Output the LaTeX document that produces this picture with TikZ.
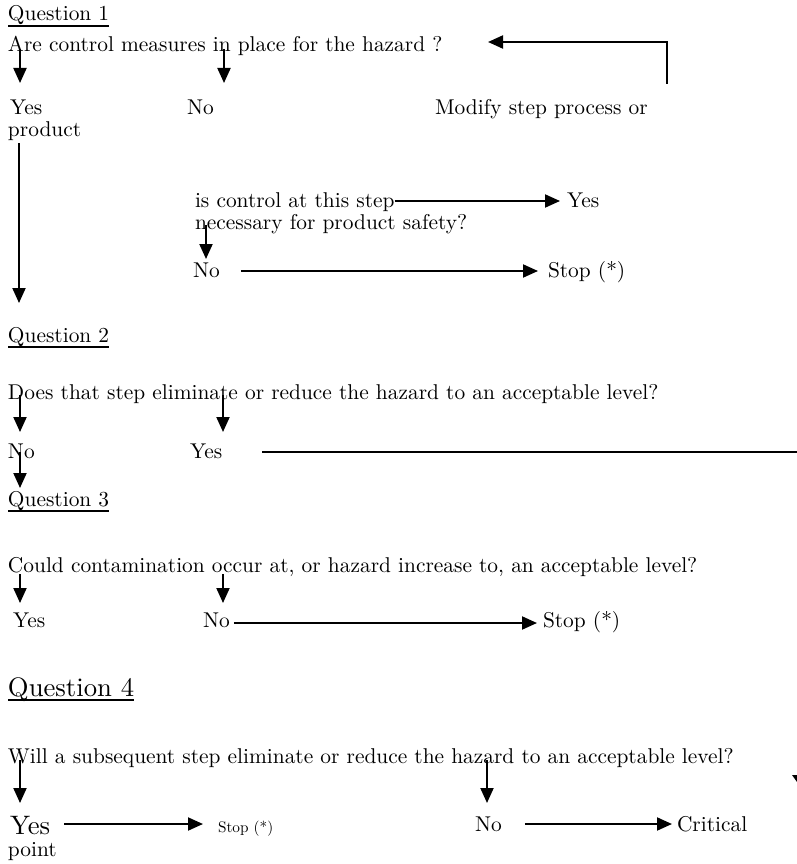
\documentclass[tikz,border=0pt]{standalone}
\usepackage{fontspec}
\setmainfont{lmroman10-regular.otf}
\usetikzlibrary{arrows.meta}
\newcommand\fm{\fontsize{21.4}{25}\selectfont}
\newcommand\fb{\fontsize{26.7}{31}\selectfont}
\newcommand\fs{\fontsize{15.3}{18}\selectfont}
\begin{document}
\begin{tikzpicture}[x=1pt,y=-1pt,
  txt/.style={inner sep=0pt, outer sep=0pt, anchor=base west, font=\fm},
  arr/.style={line width=2pt, -{Triangle[length=15pt,width=13pt]}},
  ln/.style={line width=2pt},
  ul/.style={line width=1.3pt}]
\useasboundingbox[fill=white] (0,0) rectangle (797,864);

% ---------- Question 1
\node[txt] (q1) at (8,21) {Question 1};
\draw[ul] ([yshift=-5pt]q1.base west) -- ([yshift=-5pt]q1.base east);
\node[txt] (l1) at (8,52) {Are control measures in place for the hazard ?};
\node[txt] (yes1) at (10,115) {Yes};
\node[txt] (no1) at (187,115) {No};
\node[txt] (mod) at (435,115) {Modify step process or};
\node[txt] (prod) at (8,136) {product};
\coordinate (a1s) at (20,49);  \coordinate (a1e) at (20,83);
\coordinate (a2s) at (224,49); \coordinate (a2e) at (224,83);
\draw[arr] (a1s) -- (a1e);
\draw[arr] (a2s) -- (a2e);
\coordinate (m1) at (667,84); \coordinate (m2) at (667,42); \coordinate (m3) at (488,42);
\draw[arr] (m1) -- (m2) -- (m3);
\coordinate (ls) at (19,143); \coordinate (le) at (19,303);
\draw[arr] (ls) -- (le);

\node[txt] (ic) at (195,207) {is control at this step};
\node[txt] (icyes) at (567,207) {Yes};
\node[txt] (nec) at (195,229) {necessary for product safety?};
\draw[arr] ([yshift=6pt]ic.base east) -- ([shift={(-7,-6)}]icyes.base west);
\coordinate (s1) at (206,225); \coordinate (s2) at (206,259);
\draw[arr] (s1) -- (s2);
\node[txt] (icno) at (193,277) {No};
\node[txt] (stop1) at (548,277) {Stop (*)};
\draw[arr] ([shift={(21,-6)}]icno.base east) -- ([shift={(-10,-6)}]stop1.base west);

% ---------- Question 2
\node[txt] (q2) at (8,342) {Question 2};
\draw[ul] ([yshift=-5pt]q2.base west) -- ([yshift=-5pt]q2.base east);
\node[txt] (l2) at (8,399) {Does that step eliminate or reduce the hazard to an acceptable level?};
\coordinate (b1s) at (20,395);  \coordinate (b1e) at (20,432);
\coordinate (b2s) at (223,395); \coordinate (b2e) at (223,432);
\draw[arr] (b1s) -- (b1e);
\draw[arr] (b2s) -- (b2e);
\node[txt] (no2) at (8,458) {No};
\node[txt] (yes2) at (190,458) {Yes};
\coordinate (r2) at (797,452);
\draw[ln] ([shift={(40,-6)}]yes2.base east) -- (r2);
\coordinate (c1s) at (20,452); \coordinate (c1e) at (20,488);
\draw[arr] (c1s) -- (c1e);

% ---------- Question 3
\node[txt] (q3) at (8,506) {Question 3};
\draw[ul] ([yshift=-5pt]q3.base west) -- ([yshift=-5pt]q3.base east);
\node[txt] (l3) at (8,572) {Could contamination occur at, or hazard increase to, an acceptable level?};
\coordinate (d1s) at (20,574);  \coordinate (d1e) at (20,603);
\coordinate (d2s) at (223,574); \coordinate (d2e) at (223,603);
\draw[arr] (d1s) -- (d1e);
\draw[arr] (d2s) -- (d2e);
\node[txt] (yes3) at (13,627) {Yes};
\node[txt] (no3) at (203,627) {No};
\node[txt] (stop3) at (543,627) {Stop (*)};
\draw[arr] ([shift={(4,-4)}]no3.base east) -- ([shift={(-6,-4)}]stop3.base west);

% ---------- Question 4
\node[txt, font=\fb] (q4) at (8,696) {Question 4};
\draw[ul] ([yshift=-4pt]q4.base west) -- ([yshift=-4pt]q4.base east);
\node[txt] (l4) at (8,763) {Will a subsequent step eliminate or reduce the hazard to an acceptable level?};
\coordinate (e1s) at (20,760);  \coordinate (e1e) at (20,803);
\coordinate (e2s) at (487,760); \coordinate (e2e) at (487,803);
\draw[arr] (e1s) -- (e1e);
\draw[arr] (e2s) -- (e2e);
\node[txt, font=\fb] (yes4) at (10,834) {Yes};
\node[txt, font=\fs] (stop4) at (218,832) {Stop (*)};
\draw[arr] ([shift={(14,-10)}]yes4.base east) -- ([shift={(-15,-8)}]stop4.base west);
\node[txt] (no4) at (475,831) {No};
\node[txt] (crit) at (677,831) {Critical};
\draw[arr] ([shift={(23,-7)}]no4.base east) -- ([shift={(-5,-7)}]crit.base west);
\node[txt] (pt) at (8,856) {point};
\fill (792,775) -- (797,775) -- (797,782) -- cycle;
\end{tikzpicture}
\end{document}
